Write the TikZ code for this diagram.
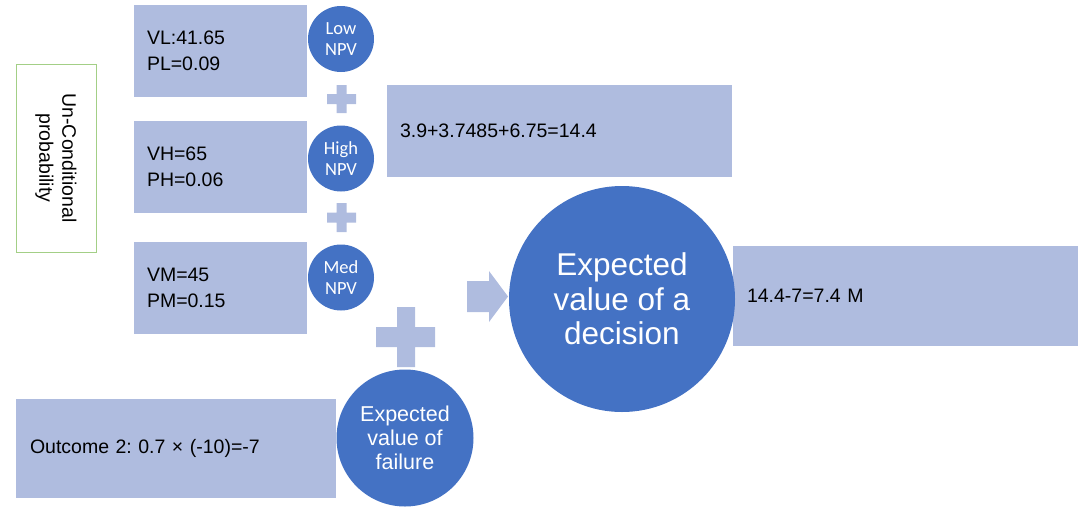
\documentclass[tikz,border=0pt]{standalone}
\usepackage{fontspec}
\setmainfont{Liberation Sans}
\newfontfamily\calfont{Carlito}
\frenchspacing
\definecolor{boxfill}{HTML}{AFBCDF}
\definecolor{circfill}{HTML}{4472C4}
\definecolor{greenline}{HTML}{A3CF86}
\tikzset{
  valbox/.style={rectangle, fill=boxfill, inner ysep=0pt, align=left,
    font=\fontsize{19.5}{26}\selectfont, anchor=center},
  smallcirc/.style={circle, fill=circfill, minimum size=66pt, inner sep=0pt,
    text=white, align=center, font=\calfont\fontsize{18.5}{20.5}\selectfont},
  bigcirc/.style={circle, fill=circfill, inner sep=0pt, text=white, align=center},
  plusmark/.style={fill=boxfill},
}
\begin{document}
\begin{tikzpicture}[x=1pt,y=-1pt]
\useasboundingbox (0,0) rectangle (1087,507);
% green label box
\node[draw=greenline, line width=1pt, minimum width=80pt, minimum height=188pt, inner sep=0pt] (lbl) at (56,158) {};
\node[rotate=-90, align=center, font=\fontsize{19.5}{23}\selectfont, inner sep=0pt] (lbltext) at (lbl.center) {Un-Conditional\\probability};
% value boxes
\node[valbox, inner xsep=13pt, text width=147pt, minimum height=92pt] (vl) at (220.5,51) {VL:41.65\\PL=0.09};
\node[valbox, inner xsep=13pt, text width=147pt, minimum height=92pt] (vh) at (220.5,167) {VH=65\\PH=0.06};
\node[valbox, inner xsep=13pt, text width=147pt, minimum height=92pt] (vm) at (220.5,287.5) {VM=45\\PM=0.15};
\node[valbox, inner xsep=13pt, text width=319pt, minimum height=92pt] (sum) at (559.5,131) {3.9+3.7485+6.75=14.4};
\node[valbox, inner xsep=14pt, text width=317pt, minimum height=100pt] (res) at (905.5,296) {14.4-7=7.4 M};
\node[valbox, inner xsep=14pt, text width=292pt, minimum height=99pt] (out) at (176,448.5) {Outcome 2: 0.7 × (-10)=-7};
% small circles
\node[smallcirc] (low) at (341,39) {Low\\NPV};
\node[smallcirc] (high) at (341,158.5) {High\\NPV};
\node[smallcirc] (med) at (341,277.5) {Med\\NPV};
% big circles
\node[bigcirc, minimum size=137pt, font=\fontsize{21.5}{24}\selectfont] (fail) at (405,438) {Expected\\value of\\failure};
\node[bigcirc, minimum size=226pt, font=\fontsize{31.5}{34.5}\selectfont] (dec) at (622,299) {Expected\\value of a\\decision};
% plus signs
\fill[plusmark] (327,94) rectangle (356,104) (336.5,85) rectangle (346.5,113);
\fill[plusmark] (327,212.5) rectangle (356,222.5) (336.5,203) rectangle (346.5,232);
\fill[plusmark] (376,327) rectangle (435,347) (397,307) rectangle (415,367);
% arrow
\fill[plusmark] (467,281) -- (489,281) -- (489,271) -- (508,296.5) -- (489,322) -- (489,312) -- (467,312) -- cycle;
\end{tikzpicture}
\end{document}
